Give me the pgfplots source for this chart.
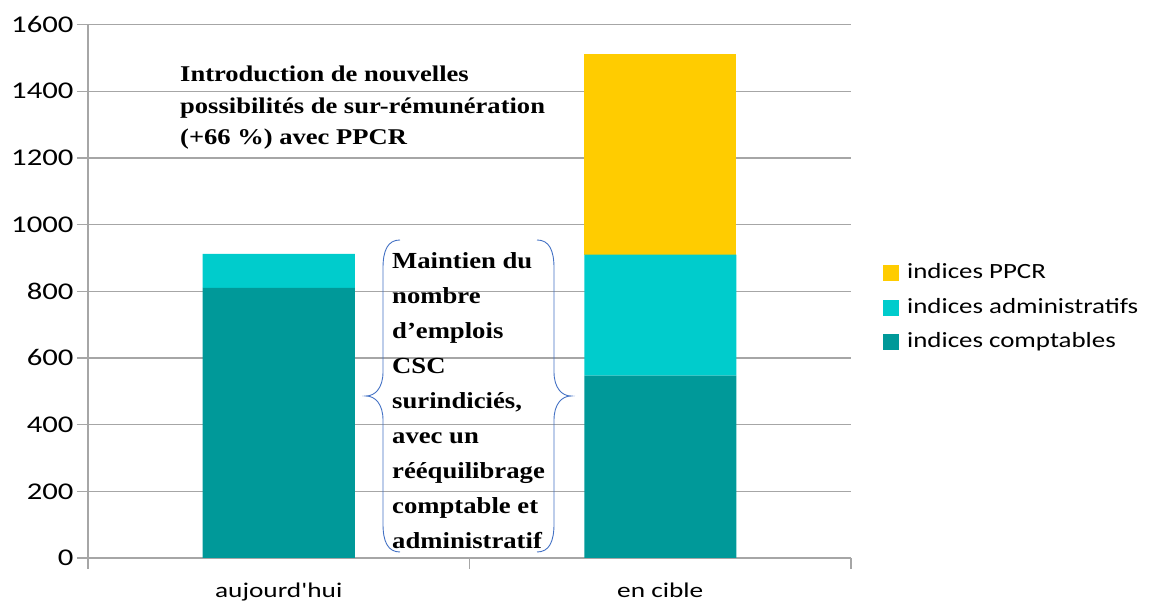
\documentclass[border=0pt]{standalone}
\usepackage{pgfplots}
\pgfplotsset{compat=1.18}
\usepackage{graphicx}
\usepackage{fontspec}
\setmainfont{Carlito}
\newfontfamily\carl{Carlito}
\newfontfamily\serifb{Liberation Serif}
\definecolor{ppcr}{HTML}{FFCC00}
\definecolor{adm}{HTML}{00CCCC}
\definecolor{cpt}{HTML}{009999}
\definecolor{gridc}{HTML}{A6A6A6}
\definecolor{bracec}{HTML}{4472C4}
\pgfplotsset{sqleg/.style={legend image code/.code={\fill[##1] (0pt,-8pt) rectangle (16pt,8pt);}}}
\newcommand\ytl[1]{\scalebox{1.28}[1]{\carl #1}}
\begin{document}
\begin{tikzpicture}
\begin{axis}[
  at={(0pt,0pt)}, anchor=south west, scale only axis,
  width=763pt, height=533.5pt,
  ybar stacked, bar width=152pt,
  xmin=-0.5, xmax=1.5, ymin=0, ymax=1600,
  xtick={-0.5,0.5,1.5}, xticklabels={},
  extra x ticks={0,1},
  extra x tick labels={\scalebox{1.3}[1]{\carl aujourd'hui},\scalebox{1.3}[1]{\carl en cible}},
  extra x tick style={major tick length=0pt,
     xticklabel style={anchor=base, yshift=-40pt, font=\fontsize{21}{21}\selectfont, text=black}},
  ytick={0,200,400,600,800,1000,1200,1400,1600},
  yticklabels={\ytl{0},\ytl{200},\ytl{400},\ytl{600},\ytl{800},\ytl{1000},\ytl{1200},\ytl{1400},\ytl{1600}},
  ymajorgrids, grid style={gridc, line width=1.3pt},
  axis x line*=bottom, axis y line*=left,
  axis line style={gridc, line width=1.3pt},
  tick align=outside, major tick length=11pt,
  tick style={gridc, line width=1.3pt},
  yticklabel style={font=\fontsize{24}{24}\selectfont, text=black, anchor=east},
  reverse legend,
  legend style={at={(1.0419,0.5539)}, anchor=north west, draw=none, fill=none,
    inner sep=0pt, row sep=13.5pt, column sep=0pt,
    font=\fontsize{21.7}{21.7}\selectfont,
    nodes={inner sep=0pt, text height=16pt, text depth=5pt},
    /tikz/every odd column/.append style={column sep=8pt}},
  legend cell align=left,
  clip=false,
]
\addplot[fill=cpt, draw=none, sqleg] coordinates {(0,810) (1,547)};
\addlegendentry{\scalebox{1.24}[1]{indices comptables}}
\addplot[fill=adm, draw=none, sqleg] coordinates {(0,102) (1,363)};
\addlegendentry{\scalebox{1.24}[1]{indices administratifs}}
\addplot[fill=ppcr, draw=none, sqleg] coordinates {(0,0) (1,602)};
\addlegendentry{\scalebox{1.24}[1]{indices PPCR}}
\end{axis}
\begin{scope}[x=1pt, y=-1pt, shift={(-88pt,558pt)}]
  \node[anchor=base west, inner sep=0pt, font=\serifb\bfseries\fontsize{22.5}{31.5}\selectfont] at (180,82)
    {\scalebox{1.18}[1]{\begin{tabular}[t]{@{}l@{}}Introduction de nouvelles\\possibilités de sur-rémunération\\(+66~\%) avec PPCR\end{tabular}}};
  \node[anchor=base west, inner sep=0pt, font=\serifb\bfseries\fontsize{23}{35}\selectfont] at (392,269)
    {\scalebox{1.16}[1]{\begin{tabular}[t]{@{}l@{}}Maintien du\\nombre\\d’emplois\\CSC\\surindiciés,\\avec un\\rééquilibrage\\comptable et\\administratif\end{tabular}}};
  \draw[bracec, line width=0.9pt] (400,240) .. controls (388,240) and (383,250) .. (383,268) -- (383,372)
     .. controls (383,388) and (375,396) .. (366,396) .. controls (375,396) and (383,404) .. (383,420)
     -- (383,524) .. controls (383,542) and (388,552) .. (400,552);
  \draw[bracec, line width=0.9pt] (537,240) .. controls (549,240) and (554,250) .. (554,268) -- (554,372)
     .. controls (554,388) and (562,396) .. (571,396) .. controls (562,396) and (554,404) .. (554,420)
     -- (554,524) .. controls (554,542) and (549,552) .. (537,552);
  \pgfresetboundingbox
  \path[use as bounding box] (0,0) rectangle (1170,601);
\end{scope}
\end{tikzpicture}
\end{document}
